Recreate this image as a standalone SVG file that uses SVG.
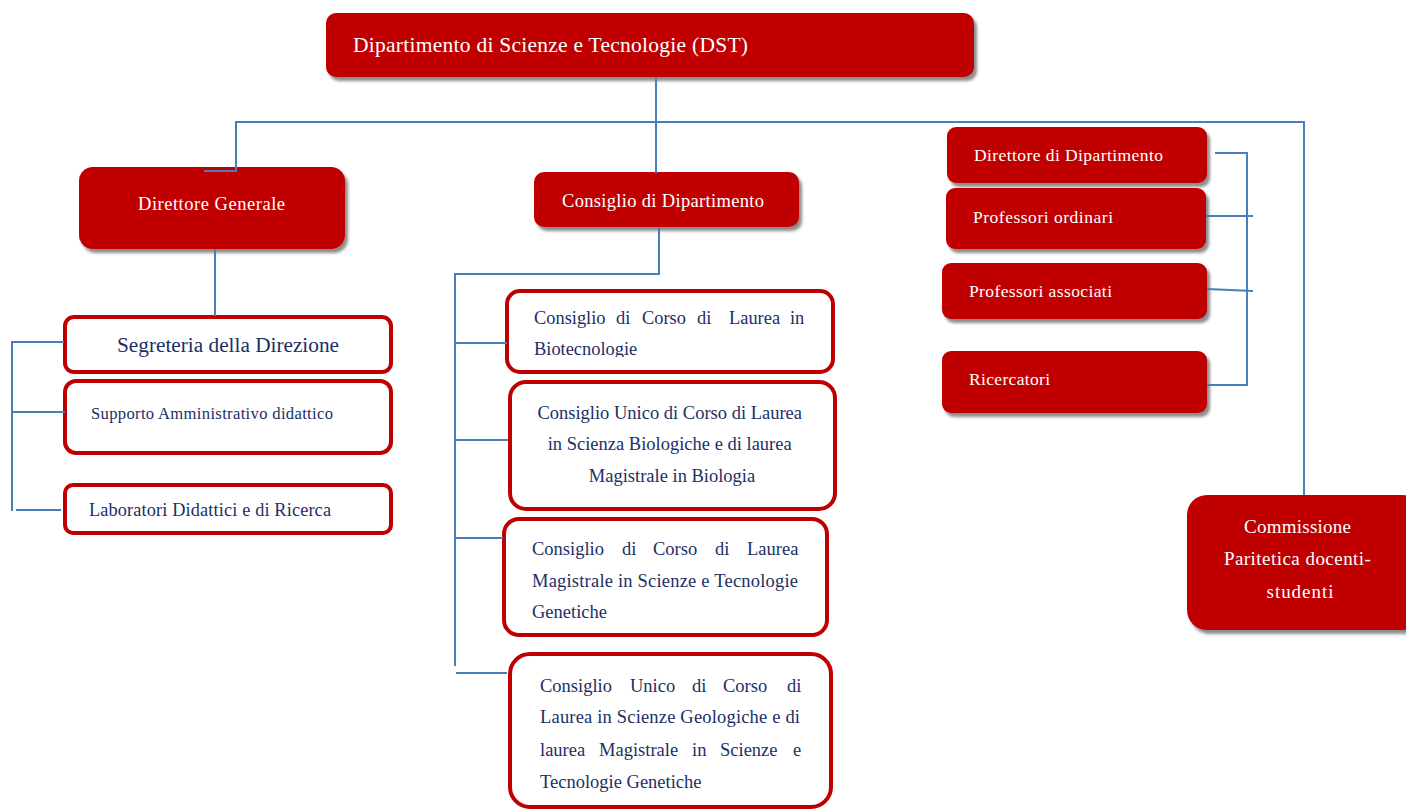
<svg xmlns="http://www.w3.org/2000/svg" width="1406" height="809" viewBox="0 0 1406 809">
  <defs>
    <filter id="shadow" x="-10%" y="-20%" width="130%" height="150%">
      <feDropShadow dx="3" dy="4" stdDeviation="1.6" flood-color="#000" flood-opacity="0.45"/>
    </filter>
    <clipPath id="clipBio">
      <rect x="506" y="290" width="330" height="67"/>
    </clipPath>
  </defs>
  <style>
    .red { fill: #c00000; filter: url(#shadow); }
    .out { fill: #ffffff; stroke: #c00000; stroke-width: 4; }
    .wt { fill: #ffffff; font-family: "Liberation Serif", serif; }
    .nv { fill: #1b2f66; font-family: "Liberation Serif", serif; }
    .link { fill: none; stroke: #4a7ebb; stroke-width: 2; }
  </style>
  <rect width="1406" height="809" fill="#ffffff"/>

  <!-- top level -->
  <g id="dst">
    <rect class="red" x="326" y="13" width="648" height="64" rx="10"/>
    <text class="wt" x="353" y="52" font-size="21.5" textLength="395" lengthAdjust="spacing">Dipartimento di Scienze e Tecnologie (DST)</text>
  </g>

  <!-- left branch -->
  <g id="direttore-generale">
    <rect class="red" x="79" y="167" width="266" height="82" rx="14"/>
    <text class="wt" x="138" y="210" font-size="18.5" textLength="147" lengthAdjust="spacing">Direttore Generale</text>
  </g>
  <g id="segreteria">
    <rect class="out" x="65" y="317" width="326" height="55" rx="9"/>
    <text class="nv" x="117" y="352" font-size="21.3" textLength="222" lengthAdjust="spacing">Segreteria della Direzione</text>
  </g>
  <g id="supporto">
    <rect class="out" x="65" y="381" width="326" height="72" rx="11"/>
    <text class="nv" x="91" y="419" font-size="16.6" textLength="242" lengthAdjust="spacing">Supporto  Amministrativo didattico</text>
  </g>
  <g id="laboratori">
    <rect class="out" x="65" y="485" width="326" height="48" rx="8"/>
    <text class="nv" x="89" y="516" font-size="18.3" textLength="242" lengthAdjust="spacing">Laboratori Didattici e di Ricerca</text>
  </g>

  <!-- centre branch -->
  <g id="consiglio-dipartimento">
    <rect class="red" x="534" y="172" width="265" height="55" rx="10"/>
    <text class="wt" x="562" y="207" font-size="18.5" textLength="202" lengthAdjust="spacing">Consiglio di Dipartimento</text>
  </g>
  <g id="ccl-biotecnologie" font-size="18.4">
    <rect class="out" x="507" y="291" width="326" height="81" rx="13"/>
    <text class="nv"><tspan x="534" y="324">Consiglio</tspan><tspan x="616" y="324">di</tspan><tspan x="642" y="324">Corso</tspan><tspan x="697" y="324">di</tspan><tspan x="729" y="324">Laurea</tspan><tspan x="790" y="324">in</tspan></text>
    <text class="nv" x="534" y="355" clip-path="url(#clipBio)">Biotecnologie</text>
  </g>
  <g id="ccl-biologia" font-size="18.5">
    <rect class="out" x="510" y="382" width="325" height="127" rx="16"/>
    <text class="nv" text-anchor="middle">
      <tspan x="672" y="419">Consiglio Unico di Corso di Laurea</tspan>
      <tspan x="672" y="450">in Scienza Biologiche e di laurea</tspan>
      <tspan x="672" y="482">Magistrale in Biologia</tspan>
    </text>
  </g>
  <g id="ccl-genetiche" font-size="18.5">
    <rect class="out" x="504" y="519" width="323" height="116" rx="15"/>
    <text class="nv"><tspan x="532" y="555">Consiglio</tspan><tspan x="622" y="555">di</tspan><tspan x="653" y="555">Corso</tspan><tspan x="715" y="555">di</tspan><tspan x="747" y="555">Laurea</tspan></text>
    <text class="nv" x="532" y="587" textLength="266" lengthAdjust="spacing">Magistrale in Scienze e Tecnologie</text>
    <text class="nv" x="532" y="618">Genetiche</text>
  </g>
  <g id="ccl-geologiche" font-size="18.5">
    <rect class="out" x="510" y="654" width="321" height="153" rx="20"/>
    <text class="nv"><tspan x="540" y="692">Consiglio</tspan><tspan x="630" y="692">Unico</tspan><tspan x="692" y="692">di</tspan><tspan x="723" y="692">Corso</tspan><tspan x="787" y="692">di</tspan></text>
    <text class="nv" x="540" y="723" textLength="260" lengthAdjust="spacing">Laurea in Scienze Geologiche e di</text>
    <text class="nv"><tspan x="540" y="756">laurea</tspan><tspan x="599" y="756">Magistrale</tspan><tspan x="692" y="756">in</tspan><tspan x="720" y="756">Scienze</tspan><tspan x="793" y="756">e</tspan></text>
    <text class="nv" x="540" y="788">Tecnologie Genetiche</text>
  </g>

  <!-- right branch -->
  <g id="direttore-dipartimento">
    <rect class="red" x="947" y="127" width="260" height="56" rx="9"/>
    <text class="wt" x="974" y="161" font-size="17.5" textLength="189" lengthAdjust="spacing">Direttore di Dipartimento</text>
  </g>
  <g id="professori-ordinari">
    <rect class="red" x="946" y="188" width="260" height="61" rx="9"/>
    <text class="wt" x="973" y="223" font-size="17.5" textLength="140" lengthAdjust="spacing">Professori ordinari</text>
  </g>
  <g id="professori-associati">
    <rect class="red" x="942" y="263" width="265" height="56" rx="9"/>
    <text class="wt" x="969" y="297" font-size="17.5" textLength="143" lengthAdjust="spacing">Professori associati</text>
  </g>
  <g id="ricercatori">
    <rect class="red" x="942" y="351" width="265" height="62" rx="9"/>
    <text class="wt" x="969" y="385" font-size="17.5" textLength="81" lengthAdjust="spacing">Ricercatori</text>
  </g>
  <g id="commissione">
    <rect class="red" x="1187" y="495" width="235" height="135" rx="20"/>
    <text class="wt" font-size="19" text-anchor="middle">
      <tspan x="1300" y="533" textLength="107" lengthAdjust="spacing">Commissione</tspan>
      <tspan x="1300" y="565" textLength="147" lengthAdjust="spacing">Paritetica docenti-</tspan>
      <tspan x="1300" y="598" textLength="67" lengthAdjust="spacing">studenti</tspan>
    </text>
  </g>

  <!-- connectors -->
  <g id="connectors" class="link">
    <path d="M656 77 V173"/>
    <path d="M204 171 H236 V122 H1304 V495"/>
    <path d="M215 249 V316"/>
    <path d="M12 341 V511"/>
    <path d="M11 342 H64"/>
    <path d="M12 412 H65"/>
    <path d="M16 510 H61"/>
    <path d="M659 227 V274 H455 V666"/>
    <path d="M455 343 H507"/>
    <path d="M455 440 H508"/>
    <path d="M455 538 H503"/>
    <path d="M456 673 H507"/>
    <path d="M1215 153 H1247 V385 H1207"/>
    <path d="M1206 216 H1253"/>
    <path d="M1207 289 L1253 291"/>
  </g>
</svg>
